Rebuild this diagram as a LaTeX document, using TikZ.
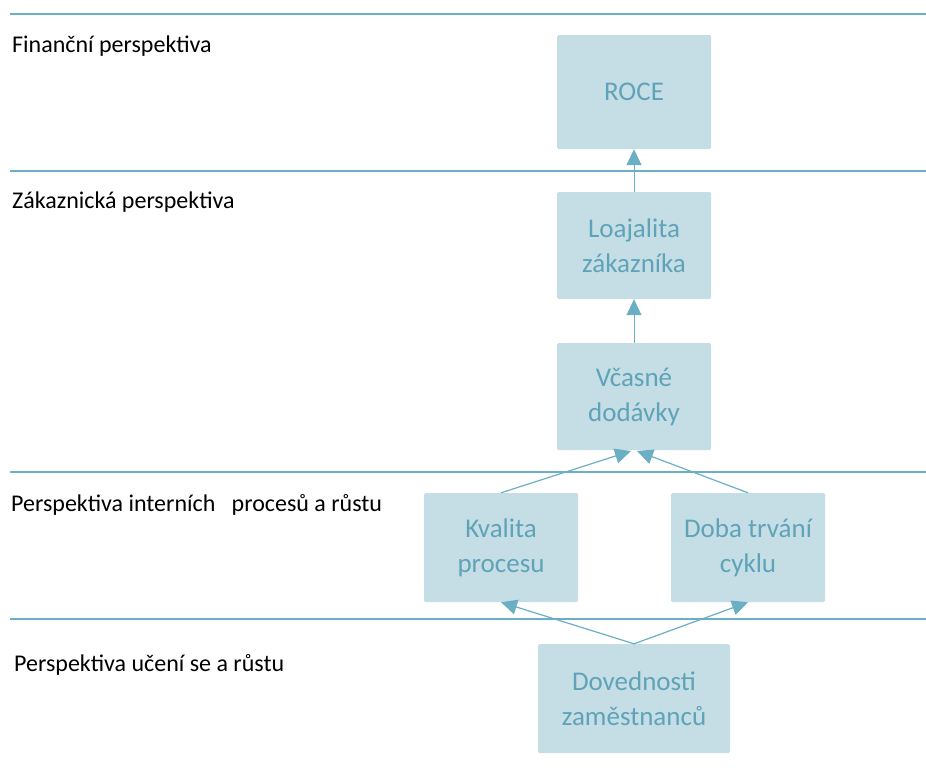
\documentclass[tikz,border=0pt]{standalone}
\usepackage{fontspec}
\setmainfont{Carlito}
\usetikzlibrary{arrows.meta}
\definecolor{boxfill}{HTML}{C5DDE5}
\definecolor{boxtext}{HTML}{5FA3B8}
\definecolor{linec}{HTML}{6AAFC4}
\begin{document}
\begin{tikzpicture}[x=1pt,y=-1pt,
  box/.style={rectangle, fill=boxfill, rounded corners=1.5pt, text=boxtext, align=center,
    font=\fontsize{27}{35}\selectfont, inner sep=0pt},
  sep/.style={draw=linec, line width=2.2pt},
  conn/.style={draw=linec, line width=1.2pt, -{Triangle[length=16pt,width=15pt]}},
  vconn/.style={draw=linec, line width=1pt, -{Triangle[length=16pt,width=15pt]}},
  lab/.style={anchor=west, font=\fontsize{24}{28}\selectfont, inner sep=0pt}
]
\useasboundingbox (0,0) rectangle (926,774);
% separators
\draw[sep] (10,14) -- (926,14);
\draw[sep] (10,171) -- (926,171);
\draw[sep] (10,472) -- (926,472);
\draw[sep] (10,619) -- (926,619);
% labels
\node[lab] (l1) at (12,46) {Finanční perspektiva};
\node[lab] (l2) at (12,202) {Zákaznická perspektiva};
\node[lab] (l3) at (11,505) {Perspektiva interních \ \ procesů a růstu};
\node[lab] (l4) at (14,665) {Perspektiva učení se a růstu};
% boxes
\node[box, minimum width=154pt, minimum height=114pt] (roce) at (634,92) {ROCE};
\node[box, minimum width=154pt, minimum height=107pt] (loaj) at (634,245.5) {Loajalita\\zákazníka};
\node[box, minimum width=154pt, minimum height=107pt] (vcas) at (634,396.5) {Včasné\\dodávky};
\node[box, minimum width=154pt, minimum height=109pt] (kval) at (501,547.5) {Kvalita\\procesu};
\node[box, minimum width=154pt, minimum height=109pt] (doba) at (748,547.5) {Doba trvání\\cyklu};
\node[box, minimum width=192pt, minimum height=109pt] (dov) at (634,698.5) {Dovednosti\\zaměstnanců};
% arrow targets
\coordinate (v1) at (631,451);
\coordinate (v2) at (637,451);
% connectors
\draw[vconn] (loaj.north) -- (roce.south);
\draw[vconn] (vcas.north) -- (loaj.south);
\draw[conn] (kval.north) -- (v1);
\draw[conn] (doba.north) -- (v2);
\draw[conn] (dov.north) -- (kval.south);
\draw[conn] (dov.north) -- (doba.south);
\end{tikzpicture}
\end{document}
